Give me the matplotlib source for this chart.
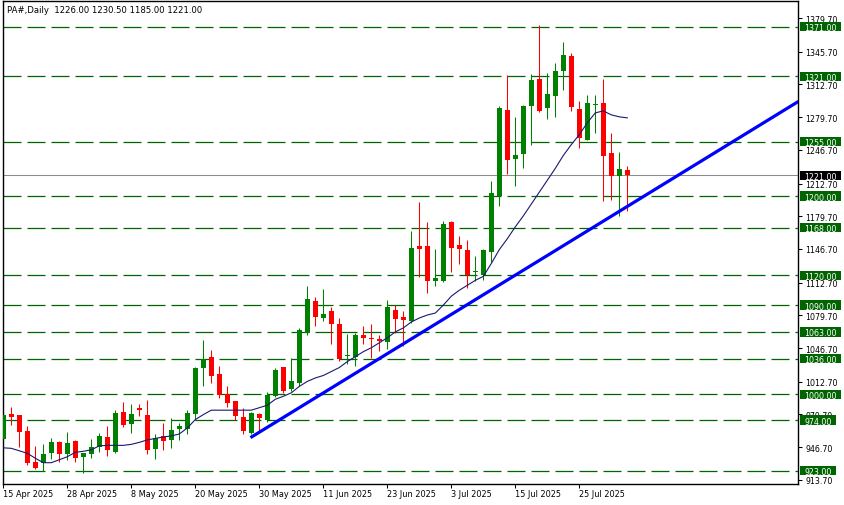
import matplotlib
matplotlib.use("Agg")
import matplotlib.pyplot as plt
from matplotlib.patches import Rectangle
from matplotlib.transforms import blended_transform_factory

# daily bars of PA#, 15 Apr 2025 .. 4 Aug 2025 (bar index = position on chart)
opens = [955, 980, 979, 963, 932, 931, 941, 952, 940, 953,
         937, 940, 947, 957, 942, 982, 970, 986, 979, 945,
         958, 954, 965, 965, 980, 1027, 1038, 1021, 1000, 993,
         977, 961, 980, 974, 998, 1028, 1005, 1011, 1062, 1094,
         1077, 1084, 1071, 1039, 1038, 1060, 1057, 1056, 1053, 1085,
         1078, 1074, 1150, 1150, 1114, 1114, 1174, 1151, 1146, 1123,
         1120, 1144, 1200, 1287, 1237, 1243, 1291, 1318, 1289, 1301,
         1326, 1341, 1288, 1257, 1292, 1294, 1244, 1220, 1226]
highs = [981, 987, 979, 968, 948, 950, 956, 953, 962, 954,
         941, 955, 961, 968, 984, 992, 990, 990, 994, 960,
         971, 976, 971, 984, 1028, 1055, 1045, 1029, 1008, 993,
         986, 982, 981, 1002, 1027, 1028, 1037, 1067, 1109, 1098,
         1106, 1088, 1077, 1061, 1062, 1069, 1071, 1060, 1095, 1090,
         1084, 1165, 1194, 1174, 1147, 1175, 1175, 1160, 1156, 1140,
         1147, 1215, 1291, 1322, 1280, 1292, 1323, 1373, 1324, 1334,
         1356, 1344, 1296, 1302, 1302, 1318, 1264, 1245, 1230.5]
lows = [941, 969, 947, 929, 925, 923, 935, 932, 934, 932,
        921, 936, 942, 938, 941, 967, 961, 978, 940, 935,
        944, 946, 954, 960, 974, 1008, 1011, 996, 987, 974,
        960, 960, 963, 972, 997, 1001, 1003, 1008, 1060, 1069,
        1074, 1051, 1034, 1031, 1029, 1051, 1037, 1044, 1046, 1062,
        1049, 1072, 1118, 1102, 1109, 1113, 1123, 1131, 1107, 1114,
        1115, 1134, 1190, 1222, 1210, 1228, 1252, 1285, 1278, 1280,
        1307, 1286, 1249, 1257, 1264, 1195, 1196, 1180, 1185]
closes = [979, 977, 962, 931, 926, 940, 952, 940, 951, 936,
          941, 947, 958, 944, 981, 969, 980, 984, 944, 956,
          953, 964, 968, 981, 1027, 1036, 1018, 999, 991, 978,
          963, 981, 976, 999, 1025, 1003, 1013, 1065, 1096, 1078,
          1081, 1071, 1036, 1040, 1060, 1057, 1056, 1054, 1088, 1076,
          1075, 1148, 1147, 1114, 1117, 1172, 1148, 1147, 1120, 1124,
          1146, 1203, 1289, 1236, 1241, 1291, 1317, 1286, 1303, 1326,
          1342, 1290, 1259, 1294, 1293, 1240, 1220, 1227, 1221]
# moving average line
ma_line = [946, 945.5, 943, 940.5, 935.5, 931, 931, 934, 937, 941.5,
           942.5, 944, 948, 948.5, 948.5, 948.5, 949.5, 951.5, 954, 955.5,
           957, 958, 960, 966, 974.5, 979.5, 984, 984, 984, 984,
           984, 984, 986.5, 989, 995, 998, 1001.5, 1008, 1013, 1016.5,
           1019, 1023, 1027, 1033, 1038, 1043, 1047, 1052, 1057, 1063,
           1067, 1073, 1077, 1080, 1082, 1090, 1099, 1105, 1110, 1115,
           1119, 1132, 1146, 1157, 1169, 1180, 1192, 1204, 1216, 1228,
           1241, 1252, 1262, 1274, 1284, 1286, 1282, 1280, 1279]

# support trend line (bar index, price)
trend_x = [30.9, 99.4]
trend_y = [956.3, 1295.6]

levels = [1371, 1321, 1255, 1200, 1168, 1120, 1090, 1063, 1036, 1000, 974, 923]
last_price = 1221.00

date_ticks = [0, 8, 16, 24, 32, 40, 48, 56, 64, 72]
date_labels = ["15 Apr 2025", "28 Apr 2025", "8 May 2025", "20 May 2025",
               "30 May 2025", "11 Jun 2025", "23 Jun 2025", "3 Jul 2025",
               "15 Jul 2025", "25 Jul 2025"]
price_ticks = [1379.70, 1345.70, 1312.70, 1279.70, 1246.70, 1212.70, 1179.70,
               1146.70, 1112.70, 1079.70, 1046.70, 1012.70, 979.70, 946.70, 913.70]

GREEN = "#008000"
RED = "#ff0000"
LEVEL = "#006400"
FS = 5.7

plt.rcParams["font.family"] = "DejaVu Sans"
plt.rcParams["lines.scale_dashes"] = False

fig = plt.figure(figsize=(8.44, 5.06), dpi=100)
fig.patch.set_facecolor("white")
ax = fig.add_axes([2.7 / 844, 21 / 506, 795.6 / 844, 483 / 506])

for lv in levels:
    ax.axhline(lv, color=LEVEL, lw=0.9, dashes=(12.96, 4.32), zorder=1)
ax.axhline(last_price, color="#8c8c8c", lw=0.75, zorder=1)

xs = list(range(len(closes)))
cols = [GREEN if c >= o else RED for o, c in zip(opens, closes)]
ax.vlines(xs, lows, highs, colors=cols, lw=0.75, zorder=2)
bottoms = [min(o, c) for o, c in zip(opens, closes)]
heights = [max(abs(c - o), 1.0) for o, c in zip(opens, closes)]
ax.bar(xs, heights, bottom=bottoms, width=0.62, color=cols, lw=0, zorder=3)

ax.plot(xs, ma_line, color="#191970", lw=0.8, zorder=4)
ax.plot(trend_x, trend_y, color="#0000ff", lw=2.3, solid_capstyle="butt", zorder=5)

ax.set_xlim(-0.075, 99.375)
ax.set_ylim(909.5, 1396.9)

ax.set_xticks(date_ticks)
ax.set_xticklabels(date_labels, ha="left", fontsize=5.9)
ax.set_yticks(price_ticks)
ax.set_yticklabels([f"{p:.2f}" for p in price_ticks], fontsize=FS)
ax.yaxis.tick_right()
ax.tick_params(axis="x", direction="out", length=2.6, width=0.75, pad=1.2)
ax.tick_params(axis="y", direction="out", length=2.9, width=0.75, pad=2.0)
for sp in ax.spines.values():
    sp.set_linewidth(1.0)
    sp.set_color("black")

# price tags on the right side
tr = blended_transform_factory(ax.transAxes, ax.transData)
x0 = (800 - 2.7) / 795.6
xt = (804.5 - 2.7) / 795.6
ppx = (1396.9 - 909.5) / 483
for lv in levels + [last_price]:
    txt = f"{lv:.2f}"
    w = (41 if len(txt) > 6 else 36) / 795.6
    fc = "black" if lv == last_price else LEVEL
    ax.add_patch(Rectangle((x0, lv - 4.65 * ppx), w, 9.3 * ppx, transform=tr,
                           facecolor=fc, edgecolor="none", clip_on=False, zorder=6))
    ax.text(xt, lv, txt, transform=tr, color="white", fontsize=FS,
            ha="left", va="center_baseline", clip_on=False, zorder=7)

ax.text((7.3 - 2.7) / 795.6, 1 - 8.5 / 483, "PA#,Daily  1226.00 1230.50 1185.00 1221.00",
        transform=ax.transAxes, fontsize=6.1, color="black", ha="left", va="center")

fig.savefig("out.png", dpi=100)
